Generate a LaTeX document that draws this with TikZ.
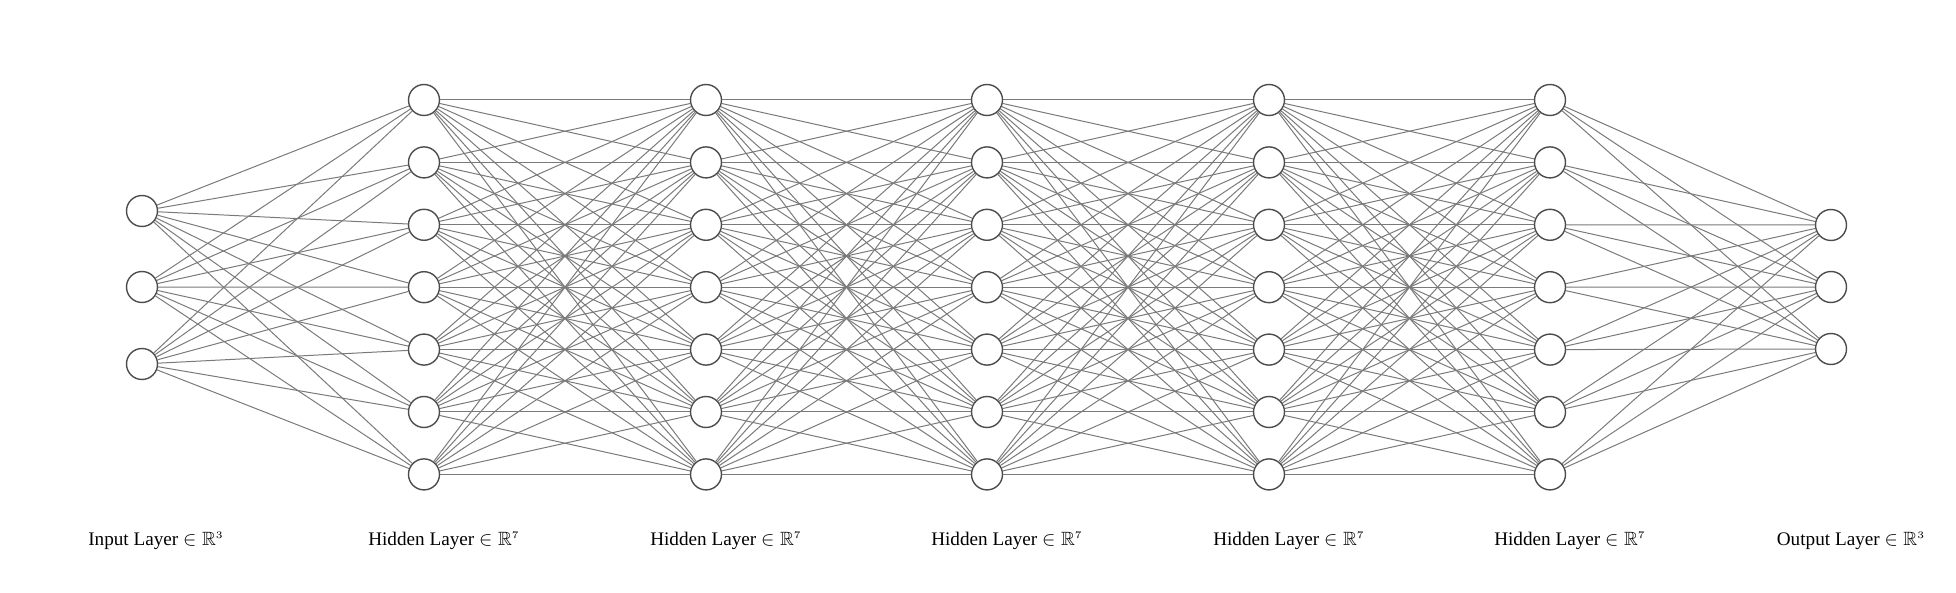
\documentclass[tikz,border=0pt]{standalone}
\usepackage{amsmath,amssymb}
\usepackage{fontspec}
\setmainfont{Liberation Serif}
\usetikzlibrary{positioning}

\newcommand{\realsp}[1]{$\in \mathbb{R}^{\scriptscriptstyle #1}$}

\begin{document}
\begin{tikzpicture}[
    x=0.5pt, y=-0.5pt,
    neuron/.style={circle, draw=black!70, fill=white, line width=0.7pt,
                   minimum size=15.5pt, inner sep=0pt},
    link/.style={draw=black!52, line width=0.5pt},
    layerlabel/.style={font=\fontsize{9.6}{11}\selectfont, inner sep=0pt}
]
    \useasboundingbox (0,0) rectangle (1956,593);

    % Input layer
    \foreach \i/\y in {1/211, 2/287, 3/364}
        \node[neuron] (in\i) at (142,\y) {};

    % Hidden layers
    \foreach \l/\x in {1/424, 2/706, 3/987, 4/1269, 5/1550}
        \foreach \i in {1,...,7}
            \node[neuron] (h\l-\i) at (\x,{100+62.4*(\i-1)}) {};

    % Output layer
    \foreach \i/\y in {1/225, 2/287, 3/349}
        \node[neuron] (out\i) at (1831,\y) {};

    % Connections
    \foreach \i in {1,2,3}
        \foreach \j in {1,...,7}
            \draw[link] (in\i) -- (h1-\j);
    \foreach \l in {1,...,4} {
        \pgfmathtruncatemacro\n{\l+1}
        \foreach \i in {1,...,7}
            \foreach \j in {1,...,7}
                \draw[link] (h\l-\i) -- (h\n-\j);
    }
    \foreach \i in {1,...,7}
        \foreach \j in {1,2,3}
            \draw[link] (h5-\i) -- (out\j);

    % Labels
    \node[layerlabel] (lin) at (156,541) {Input Layer \realsp{3}};
    \foreach \l/\x in {1/444, 2/726, 3/1007, 4/1289, 5/1570}
        \node[layerlabel] (lh\l) at (\x,541) {Hidden Layer \realsp{7}};
    \node[layerlabel] (lout) at (1851,541) {Output Layer \realsp{3}};

\end{tikzpicture}
\end{document}
